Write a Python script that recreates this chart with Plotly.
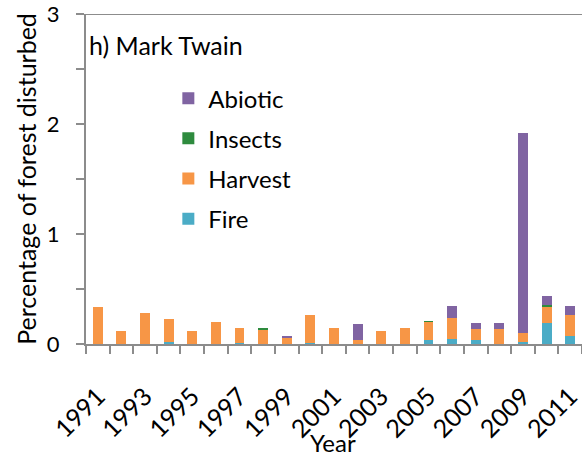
import plotly.graph_objects as go

years = [str(y) for y in range(1991, 2012)]
fire    = [0, 0, 0, 0.02, 0, 0, 0.01, 0, 0, 0.005, 0, 0, 0, 0, 0.035, 0.05, 0.033, 0, 0.018, 0.187, 0.075]
harvest = [0.333, 0.115, 0.285, 0.207, 0.115, 0.2, 0.14, 0.13, 0.06, 0.255, 0.15, 0.035, 0.12, 0.145, 0.165, 0.19, 0.10, 0.136, 0.085, 0.158, 0.19]
insects = [0, 0, 0, 0, 0, 0, 0, 0.01, 0, 0, 0, 0, 0, 0, 0.003, 0, 0, 0, 0, 0.012, 0]
abiotic = [0, 0, 0, 0, 0, 0, 0, 0, 0.008, 0, 0, 0.145, 0, 0, 0, 0.105, 0.06, 0.055, 1.815, 0.08, 0.08]

tick_text = [y if (int(y) - 1991) % 2 == 0 else "" for y in years]
y_ticks = [0, 0.5, 1, 1.5, 2, 2.5, 3]
y_tick_text = ["0", "", "1", "", "2", "", "3"]

series = [
    ("Fire", fire, "#4BACC6", 4),
    ("Harvest", harvest, "#F79646", 3),
    ("Insects", insects, "#2E8B3E", 2),
    ("Abiotic", abiotic, "#8064A2", 1),
]

FONT = "Lato"
FS = 24
fig = go.Figure()
for name, vals, col, rank in series:
    fig.add_trace(go.Bar(x=years, y=vals, name=name, legendgroup=name, legendrank=rank,
                         marker=dict(color=col, line=dict(width=0))))

fig.update_layout(
    width=582, height=457,
    margin=dict(l=86, r=0, t=14, b=113),
    barmode="stack", bargap=0.58,
    plot_bgcolor="white", paper_bgcolor="white",
    font=dict(family=FONT, size=FS, color="#000000"),
    showlegend=True,
    legend=dict(x=0.166, y=0.812, xanchor="left", yanchor="top",
                traceorder="grouped", tracegroupgap=6,
                bgcolor="rgba(0,0,0,0)", font=dict(size=FS)),
    xaxis=dict(type="category", tickmode="array", tickvals=years, ticktext=tick_text,
               tickson="boundaries", ticks="outside", ticklen=8, tickwidth=2,
               tickcolor="#8c8c8c", showline=True, linecolor="#8c8c8c", linewidth=2,
               tickangle=-45, showgrid=False, automargin=False, ticklabelstandoff=26,
               tickfont=dict(size=25)),
    yaxis=dict(range=[0, 3], tickmode="array", tickvals=y_ticks, ticktext=y_tick_text,
               ticks="outside", ticklen=8, tickwidth=2, tickcolor="#8c8c8c",
               showline=True, linecolor="#8c8c8c", linewidth=2, showgrid=False,
               zeroline=False, automargin=False, ticklabelstandoff=12,
               ticklabeloverflow="allow", tickfont=dict(size=22),
               title=dict(text="Percentage of forest disturbed", font=dict(size=25), standoff=3)),
    shapes=[dict(type="line", xref="paper", yref="y", x0=0, x1=1, y0=3, y1=3,
                 line=dict(color="#8c8c8c", width=2))],
    annotations=[
        dict(text="h) Mark Twain", xref="paper", yref="paper", x=0.003, y=0.905,
             xanchor="left", yanchor="middle", showarrow=False, font=dict(size=25)),
        dict(text="Year", xref="paper", yref="paper", x=0.497, y=-0.297,
             xanchor="center", yanchor="middle", showarrow=False, font=dict(size=FS)),
    ],
)

# remove the page's default 8px body margin so the figure fills the 582x457 window
fig.write_html("out.html", config={"displayModeBar": False},
               post_script="document.body.style.margin='0';")
